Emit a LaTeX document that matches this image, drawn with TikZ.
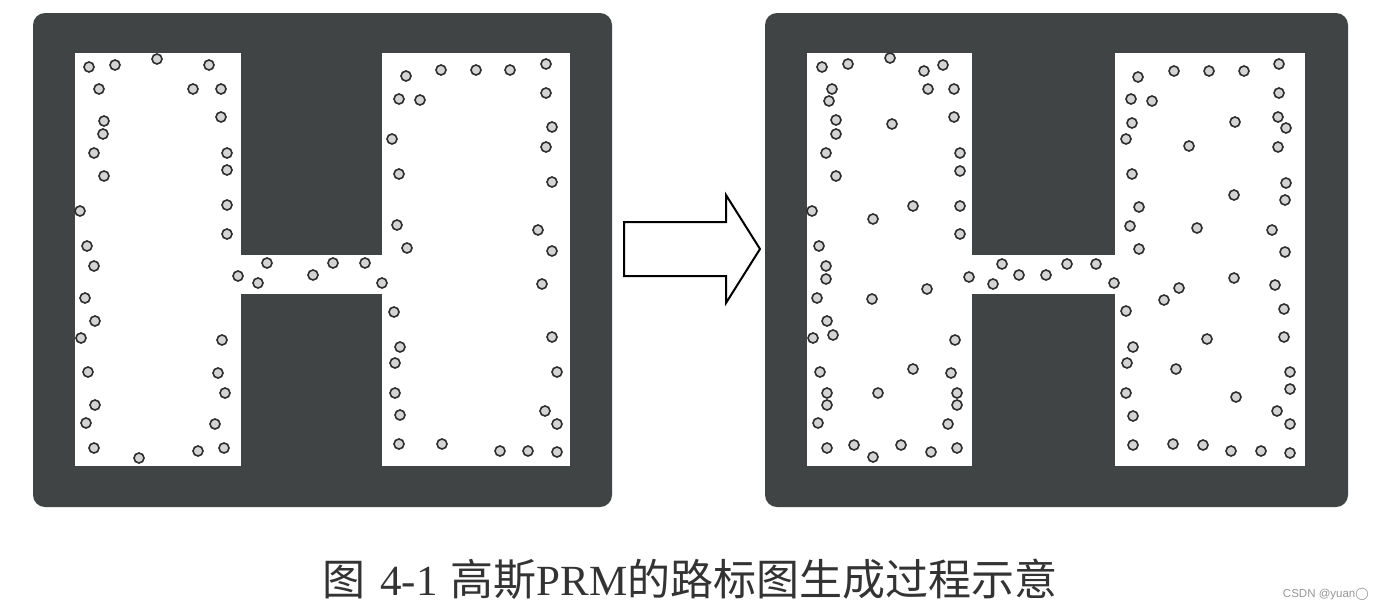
\documentclass[tikz,border=0pt]{standalone}
\usepackage{fontspec}
\setmainfont{Liberation Serif}
\newfontfamily\cjk{Noto Sans CJK SC}
\newfontfamily\wmfont{Liberation Sans}
\newfontfamily\symfont{DejaVu Sans}
\usepackage{tikz}
\usetikzlibrary{positioning,calc}
\definecolor{prmgris}{RGB}{64,68,68}
\definecolor{prmring}{RGB}{45,45,45}
\definecolor{prmfill}{RGB}{212,212,212}
\definecolor{prmmark}{RGB}{150,150,150}
\tikzset{
  panelbox/.style={fill=prmgris, rounded corners=12pt},
  freebox/.style={fill=white},
  samplept/.style={
    circle, draw=prmring, fill=prmfill, line width=1.6pt,
    inner sep=0pt, minimum size=10pt
  },
  bigarrow/.style={draw=black, fill=white, line width=2pt, line join=miter},
  captext/.style={font=\fontsize{43}{47}\selectfont, text=black!80, inner sep=0pt},
  marktext/.style={font=\wmfont\fontsize{11.5}{13}\selectfont, text=prmmark, inner sep=0pt}
}

\begin{document}
\begin{tikzpicture}[x=1pt, y=-1pt]
  \useasboundingbox (0,0) rectangle (1384,611);
  \fill[white] (0,0) rectangle (1384,611);

  % Workspaces
  \fill[panelbox] (33,13) rectangle (612,507);
  \fill[freebox] (75,53) rectangle (241,466);
  \fill[freebox] (382,53) rectangle (570,466);
  \fill[freebox] (240,255) rectangle (383,294);

  \fill[panelbox] (765,13) rectangle (1348,507);
  \fill[freebox] (807,53) rectangle (972,466);
  \fill[freebox] (1115,53) rectangle (1305,466);
  \fill[freebox] (971,255) rectangle (1116,294);

  % Samples, before
  \foreach \x/\y [count=\i] in {
    89/67, 115/65, 157/59, 209/65, 99/89, 193/89, 221/89, 104/121, 103/134,
    221/117, 94/153, 227/153, 227/170, 104/176, 227/205, 80/211, 227/234, 87/246,
    94/266, 85/298, 95/321, 81/338, 222/340, 88/372, 218/373, 225/393, 95/405,
    86/423, 215/424, 94/448, 139/458, 198/451, 224/448,
    238/276, 267/263, 258/283, 313/275, 333/263, 365/263, 382/283,
    406/76, 441/70, 476/70, 510/70, 546/64, 399/99, 420/100, 546/93, 392/139,
    552/127, 546/147, 399/174, 552/182, 397/225, 538/230, 407/248, 552/251,
    394/312, 542/284, 400/347, 395/363, 552/337, 557/372, 395/393, 400/415,
    545/411, 557/424, 399/444, 442/444, 500/451, 528/451, 557/452}
    \node[samplept] (a\i) at (\x,\y) {};

  % Samples, after
  \foreach \x/\y [count=\i] in {
    822/67, 848/64, 890/58, 924/71, 943/65, 832/89, 829/101, 928/89, 954/89,
    836/120, 836/134, 892/124, 954/117, 826/153, 960/153, 960/171, 836/176,
    913/206, 960/206, 812/211, 873/219, 960/234, 819/246,
    826/266, 826/279, 817/298, 872/299, 927/289, 827/321, 813/338, 833/335,
    955/340, 820/372, 913/369, 951/373, 827/393, 827/405, 878/393, 957/393,
    957/405, 818/423, 948/424, 827/448, 854/445, 873/457, 901/445, 931/452, 957/448,
    969/277, 1002/264, 993/284, 1019/275, 1046/275, 1067/264, 1096/264, 1114/283,
    1138/77, 1174/71, 1209/71, 1244/71, 1279/64, 1131/99, 1152/101, 1279/93,
    1132/123, 1235/122, 1278/117, 1286/128, 1126/139, 1189/146, 1278/147,
    1132/174, 1286/183, 1234/195, 1285/200, 1139/207, 1130/226, 1197/228,
    1272/230, 1139/249, 1285/252,
    1234/278, 1275/285, 1179/288, 1164/300, 1126/311, 1284/309, 1207/339,
    1284/337, 1133/347, 1127/363, 1176/369, 1290/372, 1290/389, 1126/393,
    1236/397, 1133/416, 1277/411, 1290/424, 1133/445, 1173/444, 1203/445,
    1231/451, 1261/451, 1290/453}
    \node[samplept] (b\i) at (\x,\y) {};

  % Arrow
  \draw[bigarrow] (624,222) -- (726,222) -- (726,195) -- (760,249)
    -- (726,303) -- (726,276) -- (624,276) -- cycle;

  \node[captext] (cap) at (690,579)
    {{\cjk 图}\hspace{15pt}4-1\hspace{13pt}{\cjk 高斯}PRM{\cjk 的路标图生成过程示意}};
  \node[marktext, anchor=east] (mark) at (1369,594)
    {CSDN @yuan{\symfont\fontsize{12}{13}\selectfont ◯}};
\end{tikzpicture}
\end{document}
